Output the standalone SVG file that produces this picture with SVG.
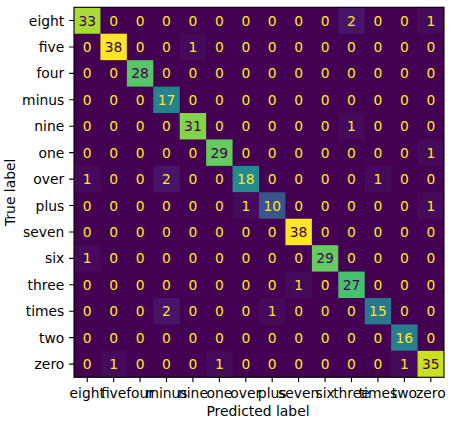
<svg xmlns="http://www.w3.org/2000/svg" width="464" height="424" viewBox="0 0 464 424">
<style>
text{font-family:"DejaVu Sans",sans-serif;font-size:13.89px;}
.lo{fill:#fde725;text-anchor:middle;}
.hi{fill:#440154;text-anchor:middle;}
.yt{fill:#000;text-anchor:end;}
.xt{fill:#000;text-anchor:middle;}
.tk{stroke:#000;stroke-width:1.11;}
</style>
<rect width="464" height="424" fill="#fff"/>
<g id="cells" transform="translate(74,7.3)">
<rect x="0" y="0" width="370" height="370" fill="#440154"/>
<rect x="0" y="0" width="26.43" height="26.43" fill="#a8db34"/>
<rect x="264.29" y="0" width="26.43" height="26.43" fill="#481467"/>
<rect x="343.57" y="0" width="26.43" height="26.43" fill="#460a5d"/>
<rect x="26.43" y="26.43" width="26.43" height="26.43" fill="#fde725"/>
<rect x="105.71" y="26.43" width="26.43" height="26.43" fill="#460a5d"/>
<rect x="52.86" y="52.86" width="26.43" height="26.43" fill="#56c667"/>
<rect x="79.29" y="79.29" width="26.43" height="26.43" fill="#25838e"/>
<rect x="105.71" y="105.71" width="26.43" height="26.43" fill="#84d44b"/>
<rect x="264.29" y="105.71" width="26.43" height="26.43" fill="#460a5d"/>
<rect x="132.14" y="132.14" width="26.43" height="26.43" fill="#65cb5e"/>
<rect x="343.57" y="132.14" width="26.43" height="26.43" fill="#460a5d"/>
<rect x="0" y="158.57" width="26.43" height="26.43" fill="#460a5d"/>
<rect x="79.29" y="158.57" width="26.43" height="26.43" fill="#481467"/>
<rect x="158.57" y="158.57" width="26.43" height="26.43" fill="#238a8d"/>
<rect x="290.71" y="158.57" width="26.43" height="26.43" fill="#460a5d"/>
<rect x="158.57" y="185" width="26.43" height="26.43" fill="#460a5d"/>
<rect x="185" y="185" width="26.43" height="26.43" fill="#39558c"/>
<rect x="343.57" y="185" width="26.43" height="26.43" fill="#460a5d"/>
<rect x="211.43" y="211.43" width="26.43" height="26.43" fill="#fde725"/>
<rect x="0" y="237.86" width="26.43" height="26.43" fill="#460a5d"/>
<rect x="237.86" y="237.86" width="26.43" height="26.43" fill="#65cb5e"/>
<rect x="211.43" y="264.29" width="26.43" height="26.43" fill="#460a5d"/>
<rect x="264.29" y="264.29" width="26.43" height="26.43" fill="#48c16e"/>
<rect x="79.29" y="290.71" width="26.43" height="26.43" fill="#481467"/>
<rect x="185" y="290.71" width="26.43" height="26.43" fill="#460a5d"/>
<rect x="290.71" y="290.71" width="26.43" height="26.43" fill="#2a778e"/>
<rect x="317.14" y="317.14" width="26.43" height="26.43" fill="#287d8e"/>
<rect x="26.43" y="343.57" width="26.43" height="26.43" fill="#460a5d"/>
<rect x="132.14" y="343.57" width="26.43" height="26.43" fill="#460a5d"/>
<rect x="317.14" y="343.57" width="26.43" height="26.43" fill="#460a5d"/>
<rect x="343.57" y="343.57" width="26.43" height="26.43" fill="#cae11f"/>
</g>
<g id="values">
<text class="hi" x="87.21" y="25.5">33</text><text class="lo" x="113.64" y="25.5">0</text><text class="lo" x="140.07" y="25.5">0</text><text class="lo" x="166.5" y="25.5">0</text><text class="lo" x="192.93" y="25.5">0</text><text class="lo" x="219.36" y="25.5">0</text><text class="lo" x="245.79" y="25.5">0</text><text class="lo" x="272.21" y="25.5">0</text><text class="lo" x="298.64" y="25.5">0</text><text class="lo" x="325.07" y="25.5">0</text><text class="lo" x="351.5" y="25.5">2</text><text class="lo" x="377.93" y="25.5">0</text><text class="lo" x="404.36" y="25.5">0</text><text class="lo" x="430.79" y="25.5">1</text>
<text class="lo" x="87.21" y="51.94">0</text><text class="hi" x="113.64" y="51.94">38</text><text class="lo" x="140.07" y="51.94">0</text><text class="lo" x="166.5" y="51.94">0</text><text class="lo" x="192.93" y="51.94">1</text><text class="lo" x="219.36" y="51.94">0</text><text class="lo" x="245.79" y="51.94">0</text><text class="lo" x="272.21" y="51.94">0</text><text class="lo" x="298.64" y="51.94">0</text><text class="lo" x="325.07" y="51.94">0</text><text class="lo" x="351.5" y="51.94">0</text><text class="lo" x="377.93" y="51.94">0</text><text class="lo" x="404.36" y="51.94">0</text><text class="lo" x="430.79" y="51.94">0</text>
<text class="lo" x="87.21" y="78.37">0</text><text class="lo" x="113.64" y="78.37">0</text><text class="hi" x="140.07" y="78.37">28</text><text class="lo" x="166.5" y="78.37">0</text><text class="lo" x="192.93" y="78.37">0</text><text class="lo" x="219.36" y="78.37">0</text><text class="lo" x="245.79" y="78.37">0</text><text class="lo" x="272.21" y="78.37">0</text><text class="lo" x="298.64" y="78.37">0</text><text class="lo" x="325.07" y="78.37">0</text><text class="lo" x="351.5" y="78.37">0</text><text class="lo" x="377.93" y="78.37">0</text><text class="lo" x="404.36" y="78.37">0</text><text class="lo" x="430.79" y="78.37">0</text>
<text class="lo" x="87.21" y="104.8">0</text><text class="lo" x="113.64" y="104.8">0</text><text class="lo" x="140.07" y="104.8">0</text><text class="lo" x="166.5" y="104.8">17</text><text class="lo" x="192.93" y="104.8">0</text><text class="lo" x="219.36" y="104.8">0</text><text class="lo" x="245.79" y="104.8">0</text><text class="lo" x="272.21" y="104.8">0</text><text class="lo" x="298.64" y="104.8">0</text><text class="lo" x="325.07" y="104.8">0</text><text class="lo" x="351.5" y="104.8">0</text><text class="lo" x="377.93" y="104.8">0</text><text class="lo" x="404.36" y="104.8">0</text><text class="lo" x="430.79" y="104.8">0</text>
<text class="lo" x="87.21" y="131.23">0</text><text class="lo" x="113.64" y="131.23">0</text><text class="lo" x="140.07" y="131.23">0</text><text class="lo" x="166.5" y="131.23">0</text><text class="hi" x="192.93" y="131.23">31</text><text class="lo" x="219.36" y="131.23">0</text><text class="lo" x="245.79" y="131.23">0</text><text class="lo" x="272.21" y="131.23">0</text><text class="lo" x="298.64" y="131.23">0</text><text class="lo" x="325.07" y="131.23">0</text><text class="lo" x="351.5" y="131.23">1</text><text class="lo" x="377.93" y="131.23">0</text><text class="lo" x="404.36" y="131.23">0</text><text class="lo" x="430.79" y="131.23">0</text>
<text class="lo" x="87.21" y="157.66">0</text><text class="lo" x="113.64" y="157.66">0</text><text class="lo" x="140.07" y="157.66">0</text><text class="lo" x="166.5" y="157.66">0</text><text class="lo" x="192.93" y="157.66">0</text><text class="hi" x="219.36" y="157.66">29</text><text class="lo" x="245.79" y="157.66">0</text><text class="lo" x="272.21" y="157.66">0</text><text class="lo" x="298.64" y="157.66">0</text><text class="lo" x="325.07" y="157.66">0</text><text class="lo" x="351.5" y="157.66">0</text><text class="lo" x="377.93" y="157.66">0</text><text class="lo" x="404.36" y="157.66">0</text><text class="lo" x="430.79" y="157.66">1</text>
<text class="lo" x="87.21" y="184.09">1</text><text class="lo" x="113.64" y="184.09">0</text><text class="lo" x="140.07" y="184.09">0</text><text class="lo" x="166.5" y="184.09">2</text><text class="lo" x="192.93" y="184.09">0</text><text class="lo" x="219.36" y="184.09">0</text><text class="lo" x="245.79" y="184.09">18</text><text class="lo" x="272.21" y="184.09">0</text><text class="lo" x="298.64" y="184.09">0</text><text class="lo" x="325.07" y="184.09">0</text><text class="lo" x="351.5" y="184.09">0</text><text class="lo" x="377.93" y="184.09">1</text><text class="lo" x="404.36" y="184.09">0</text><text class="lo" x="430.79" y="184.09">0</text>
<text class="lo" x="87.21" y="210.51">0</text><text class="lo" x="113.64" y="210.51">0</text><text class="lo" x="140.07" y="210.51">0</text><text class="lo" x="166.5" y="210.51">0</text><text class="lo" x="192.93" y="210.51">0</text><text class="lo" x="219.36" y="210.51">0</text><text class="lo" x="245.79" y="210.51">1</text><text class="lo" x="272.21" y="210.51">10</text><text class="lo" x="298.64" y="210.51">0</text><text class="lo" x="325.07" y="210.51">0</text><text class="lo" x="351.5" y="210.51">0</text><text class="lo" x="377.93" y="210.51">0</text><text class="lo" x="404.36" y="210.51">0</text><text class="lo" x="430.79" y="210.51">1</text>
<text class="lo" x="87.21" y="236.94">0</text><text class="lo" x="113.64" y="236.94">0</text><text class="lo" x="140.07" y="236.94">0</text><text class="lo" x="166.5" y="236.94">0</text><text class="lo" x="192.93" y="236.94">0</text><text class="lo" x="219.36" y="236.94">0</text><text class="lo" x="245.79" y="236.94">0</text><text class="lo" x="272.21" y="236.94">0</text><text class="hi" x="298.64" y="236.94">38</text><text class="lo" x="325.07" y="236.94">0</text><text class="lo" x="351.5" y="236.94">0</text><text class="lo" x="377.93" y="236.94">0</text><text class="lo" x="404.36" y="236.94">0</text><text class="lo" x="430.79" y="236.94">0</text>
<text class="lo" x="87.21" y="263.37">1</text><text class="lo" x="113.64" y="263.37">0</text><text class="lo" x="140.07" y="263.37">0</text><text class="lo" x="166.5" y="263.37">0</text><text class="lo" x="192.93" y="263.37">0</text><text class="lo" x="219.36" y="263.37">0</text><text class="lo" x="245.79" y="263.37">0</text><text class="lo" x="272.21" y="263.37">0</text><text class="lo" x="298.64" y="263.37">0</text><text class="hi" x="325.07" y="263.37">29</text><text class="lo" x="351.5" y="263.37">0</text><text class="lo" x="377.93" y="263.37">0</text><text class="lo" x="404.36" y="263.37">0</text><text class="lo" x="430.79" y="263.37">0</text>
<text class="lo" x="87.21" y="289.8">0</text><text class="lo" x="113.64" y="289.8">0</text><text class="lo" x="140.07" y="289.8">0</text><text class="lo" x="166.5" y="289.8">0</text><text class="lo" x="192.93" y="289.8">0</text><text class="lo" x="219.36" y="289.8">0</text><text class="lo" x="245.79" y="289.8">0</text><text class="lo" x="272.21" y="289.8">0</text><text class="lo" x="298.64" y="289.8">1</text><text class="lo" x="325.07" y="289.8">0</text><text class="hi" x="351.5" y="289.8">27</text><text class="lo" x="377.93" y="289.8">0</text><text class="lo" x="404.36" y="289.8">0</text><text class="lo" x="430.79" y="289.8">0</text>
<text class="lo" x="87.21" y="316.23">0</text><text class="lo" x="113.64" y="316.23">0</text><text class="lo" x="140.07" y="316.23">0</text><text class="lo" x="166.5" y="316.23">2</text><text class="lo" x="192.93" y="316.23">0</text><text class="lo" x="219.36" y="316.23">0</text><text class="lo" x="245.79" y="316.23">0</text><text class="lo" x="272.21" y="316.23">1</text><text class="lo" x="298.64" y="316.23">0</text><text class="lo" x="325.07" y="316.23">0</text><text class="lo" x="351.5" y="316.23">0</text><text class="lo" x="377.93" y="316.23">15</text><text class="lo" x="404.36" y="316.23">0</text><text class="lo" x="430.79" y="316.23">0</text>
<text class="lo" x="87.21" y="342.66">0</text><text class="lo" x="113.64" y="342.66">0</text><text class="lo" x="140.07" y="342.66">0</text><text class="lo" x="166.5" y="342.66">0</text><text class="lo" x="192.93" y="342.66">0</text><text class="lo" x="219.36" y="342.66">0</text><text class="lo" x="245.79" y="342.66">0</text><text class="lo" x="272.21" y="342.66">0</text><text class="lo" x="298.64" y="342.66">0</text><text class="lo" x="325.07" y="342.66">0</text><text class="lo" x="351.5" y="342.66">0</text><text class="lo" x="377.93" y="342.66">0</text><text class="lo" x="404.36" y="342.66">16</text><text class="lo" x="430.79" y="342.66">0</text>
<text class="lo" x="87.21" y="369.09">0</text><text class="lo" x="113.64" y="369.09">1</text><text class="lo" x="140.07" y="369.09">0</text><text class="lo" x="166.5" y="369.09">0</text><text class="lo" x="192.93" y="369.09">0</text><text class="lo" x="219.36" y="369.09">1</text><text class="lo" x="245.79" y="369.09">0</text><text class="lo" x="272.21" y="369.09">0</text><text class="lo" x="298.64" y="369.09">0</text><text class="lo" x="325.07" y="369.09">0</text><text class="lo" x="351.5" y="369.09">0</text><text class="lo" x="377.93" y="369.09">0</text><text class="lo" x="404.36" y="369.09">1</text><text class="hi" x="430.79" y="369.09">35</text>
</g>
<g id="axes">
<rect x="74" y="7.3" width="370" height="370" fill="none" stroke="#000" stroke-width="1.11"/>
<path class="tk" d="M74 20.51h-4.86M74 46.94h-4.86M74 73.37h-4.86M74 99.8h-4.86M74 126.23h-4.86M74 152.66h-4.86M74 179.09h-4.86M74 205.51h-4.86M74 231.94h-4.86M74 258.37h-4.86M74 284.8h-4.86M74 311.23h-4.86M74 337.66h-4.86M74 364.09h-4.86"/>
<path class="tk" d="M87.21 377.3v4.86M113.64 377.3v4.86M140.07 377.3v4.86M166.5 377.3v4.86M192.93 377.3v4.86M219.36 377.3v4.86M245.79 377.3v4.86M272.21 377.3v4.86M298.64 377.3v4.86M325.07 377.3v4.86M351.5 377.3v4.86M377.93 377.3v4.86M404.36 377.3v4.86M430.79 377.3v4.86"/>
</g>
<g id="ylabels">
<text class="yt" x="64.3" y="25.5">eight</text>
<text class="yt" x="64.3" y="51.94">five</text>
<text class="yt" x="64.3" y="78.37">four</text>
<text class="yt" x="64.3" y="104.8">minus</text>
<text class="yt" x="64.3" y="131.23">nine</text>
<text class="yt" x="64.3" y="157.66">one</text>
<text class="yt" x="64.3" y="184.09">over</text>
<text class="yt" x="64.3" y="210.51">plus</text>
<text class="yt" x="64.3" y="236.94">seven</text>
<text class="yt" x="64.3" y="263.37">six</text>
<text class="yt" x="64.3" y="289.8">three</text>
<text class="yt" x="64.3" y="316.23">times</text>
<text class="yt" x="64.3" y="342.66">two</text>
<text class="yt" x="64.3" y="369.09">zero</text>
</g>
<g id="xlabels">
<text class="xt" x="87.21" y="397.5">eight</text>
<text class="xt" x="113.64" y="397.5">five</text>
<text class="xt" x="140.07" y="397.5">four</text>
<text class="xt" x="166.5" y="397.5">minus</text>
<text class="xt" x="192.93" y="397.5">nine</text>
<text class="xt" x="219.36" y="397.5">one</text>
<text class="xt" x="245.79" y="397.5">over</text>
<text class="xt" x="272.21" y="397.5">plus</text>
<text class="xt" x="298.64" y="397.5">seven</text>
<text class="xt" x="325.07" y="397.5">six</text>
<text class="xt" x="351.5" y="397.5">three</text>
<text class="xt" x="377.93" y="397.5">times</text>
<text class="xt" x="404.36" y="397.5">two</text>
<text class="xt" x="430.79" y="397.5">zero</text>
</g>
<g id="titles">
<text class="xt" x="258" y="416">Predicted label</text>
<text class="xt" transform="translate(14.5,192.3) rotate(-90)">True label</text>
</g>
</svg>
